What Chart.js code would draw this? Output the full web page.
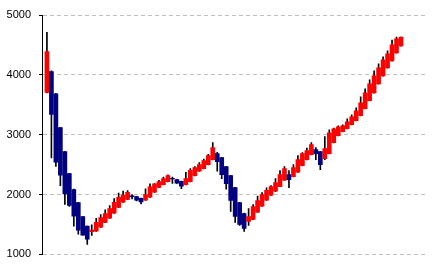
<!DOCTYPE html>
<html>
<head>
<meta charset="utf-8">
<script src="https://cdn.jsdelivr.net/npm/chart.js@4.4.1/dist/chart.umd.min.js"></script>
<style>
html,body{margin:0;padding:0;background:#ffffff;}
#c{display:block;}
</style>
</head>
<body>
<canvas id="c" width="434" height="269"></canvas>
<script>
const opens  = [3706,4056,3683,3117,2717,2350,2083,1867,1630,1472,
                1380,1389,1456,1536,1606,1690,1786,1872,1920,1980,
                1965,1935,1905,1955,2040,2120,2165,2215,2270,2250,
                2220,2165,2215,2317,2389,2433,2500,2583,2683,2617,
                2467,2317,2117,1867,1683,1550,1583,1706,1806,1906,
                1989,2056,2133,2239,2333,2300,2372,2483,2583,2667,
                2750,2717,2600,2683,2867,2983,3050,3100,3167,3233,
                3317,3433,3567,3700,3850,3983,4117,4233,4367,4483];
const highs  = [4711,4067,3690,3125,2720,2355,2090,1872,1633,1475,
                1494,1603,1665,1745,1817,1933,2025,2056,2067,2000,
                1970,1940,2095,2180,2185,2239,2290,2330,2290,2255,
                2225,2372,2433,2467,2533,2594,2672,2867,2706,2620,
                2470,2320,2120,1870,1690,1767,1833,1975,2035,2111,
                2150,2267,2400,2467,2400,2500,2650,2700,2778,2867,
                2783,2720,2967,3083,3110,3150,3167,3267,3333,3450,
                3633,3767,3917,4067,4183,4300,4400,4583,4633,4633];
const lows   = [3700,2611,2472,2150,1833,1800,1472,1339,1320,1167,
                1317,1385,1450,1530,1600,1685,1780,1868,1915,1925,
                1895,1845,1900,1950,2035,2115,2160,2210,2185,2185,
                2100,2160,2210,2312,2385,2430,2495,2580,2389,2267,
                2089,1717,1533,1483,1383,1483,1580,1700,1800,1900,
                1985,2050,2130,2235,2117,2295,2368,2480,2580,2663,
                2583,2417,2583,2680,2863,2980,3045,3095,3163,3230,
                3313,3430,3563,3695,3845,3980,4113,4230,4363,4480];
const closes = [4389,3339,2539,2322,2011,1817,1639,1406,1322,1256,
                1405,1536,1614,1683,1767,1870,1953,1990,2036,1965,
                1905,1875,2000,2128,2180,2215,2265,2317,2262,2192,
                2140,2265,2406,2450,2500,2567,2650,2783,2550,2333,
                2183,1900,1633,1500,1433,1633,1800,1900,2000,2072,
                2133,2200,2333,2433,2250,2450,2583,2683,2733,2833,
                2683,2500,2767,3033,3100,3133,3150,3217,3300,3400,
                3533,3700,3850,3983,4117,4250,4350,4500,4600,4633];
const yTicks = [1000, 2000, 3000, 4000, 5000];
const periods = opens.map((_, i) => i + 1);

const UP = '#ff0000', DOWN = '#000080';
const bodies = periods.map((p, i) => ({x: p, y: [Math.min(opens[i], closes[i]), Math.max(opens[i], closes[i])]}));
const wicks  = periods.map((p, i) => ({x: p, y: [lows[i], highs[i]]}));
const bodyColors = periods.map((p, i) => closes[i] >= opens[i] ? UP : DOWN);

new Chart(document.getElementById('c'), {
  type: 'bar',
  data: {
    datasets: [
      {data: bodies, backgroundColor: bodyColors, barThickness: 4, grouped: false, order: 0, borderWidth: 0},
      {data: wicks, backgroundColor: '#000000', barThickness: 1, grouped: false, order: 1, borderWidth: 0}
    ]
  },
  options: {
    responsive: false,
    animation: false,
    events: [],
    layout: {padding: {top: 15, right: 7, bottom: 14, left: 0}},
    plugins: {legend: {display: false}, tooltip: {enabled: false}},
    scales: {
      x: {type: 'linear', display: false, offset: false, min: -0.1, max: 85.8},
      y: {
        min: 1000, max: 5000,
        afterBuildTicks: s => { s.ticks = yTicks.map(v => ({value: v})); },
        afterFit: s => { s.width = 42; },
        ticks: {color: '#000000', padding: 8, font: {family: 'Liberation Sans', size: 11},
                callback: v => String(v)},
        grid: {color: '#c0c0c0', tickColor: '#000000', tickLength: 3, lineWidth: 1},
        border: {color: '#000000', width: 1, dash: [4, 3]}
      }
    }
  }
});
</script>
</body>
</html>
